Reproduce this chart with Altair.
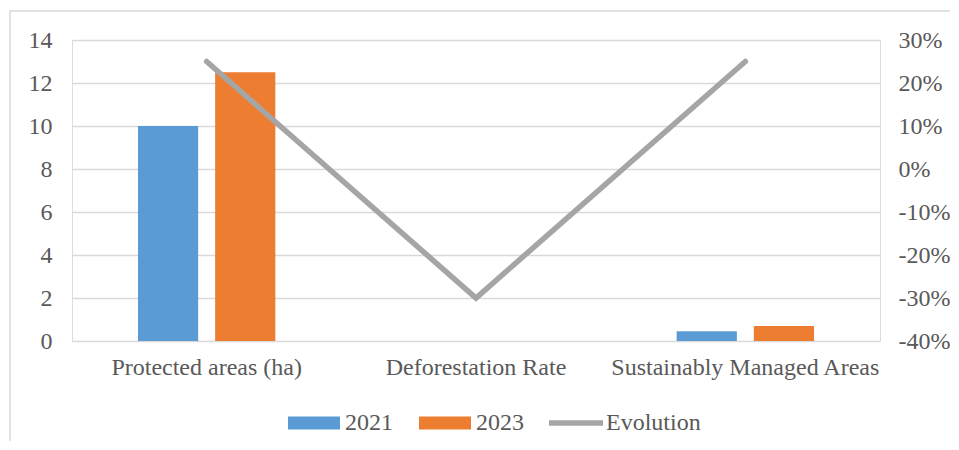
import altair as alt
import pandas as pd

categories = ["Protected areas (ha)", "Deforestation Rate", "Sustainably Managed Areas"]
years = ["2021", "2023"]
v2021 = [10.0, None, 0.45]
v2023 = [12.5, None, 0.70]
evolution = [0.25, -0.30, 0.25]

left_ticks = [0, 2, 4, 6, 8, 10, 12, 14]
right_ticks = [-0.4, -0.3, -0.2, -0.1, 0.0, 0.1, 0.2, 0.3]

BLUE = "#5B9BD5"
ORANGE = "#ED7D31"
GRAY = "#A5A5A5"
TEXT = "#595959"
GRID = "#D9D9D9"
FONT = "Liberation Serif"

rows = []
for c, a, b in zip(categories, v2021, v2023):
    if a is not None:
        rows.append({"category": c, "year": "2021", "value": a})
    if b is not None:
        rows.append({"category": c, "year": "2023", "value": b})
bars_df = pd.DataFrame(rows)
line_df = pd.DataFrame({"category": categories, "evolution": evolution,
                        "series": ["Evolution"] * 3})

x_enc = alt.X("category:N", sort=categories,
              scale=alt.Scale(paddingInner=0.49, paddingOuter=0.245),
              axis=alt.Axis(title=None, labelAngle=0, ticks=False, domain=False,
                            labelPadding=14, labelFontSize=24, labelColor=TEXT,
                            labelFont=FONT, labelLimit=0))

bars = alt.Chart(bars_df).mark_bar().encode(
    x=x_enc,
    xOffset=alt.XOffset("year:N", sort=years, scale=alt.Scale(paddingInner=0.22)),
    y=alt.Y("value:Q", scale=alt.Scale(domain=[0, 14], nice=False),
            axis=alt.Axis(title=None, values=left_ticks, grid=True, gridColor=GRID,
                          gridWidth=1.3, domain=False, ticks=False, labelPadding=20,
                          labelFontSize=24, labelColor=TEXT, labelFont=FONT)),
    fill=alt.Fill("year:N", scale=alt.Scale(domain=years, range=[BLUE, ORANGE]),
                  legend=alt.Legend(title=None, orient="none", direction="horizontal",
                                    legendX=216, legendY=357,
                                    symbolType="M-1,-0.25H1V0.25H-1Z", symbolSize=2704,
                                    symbolStrokeWidth=0, labelOffset=5, columnPadding=26,
                                    labelFontSize=24, labelColor=TEXT, labelFont=FONT,
                                    labelLimit=0)),
)

line = alt.Chart(line_df).mark_line(strokeWidth=5.5, strokeCap="round",
                                    strokeJoin="miter").encode(
    x=x_enc,
    y=alt.Y("evolution:Q", scale=alt.Scale(domain=[-0.4, 0.3], nice=False),
            axis=alt.Axis(title=None, orient="right", values=right_ticks, grid=False,
                          domain=False, ticks=False, labelPadding=18,
                          labelExpr="round(datum.value*100) + '%'",
                          labelFontSize=24, labelColor=TEXT, labelFont=FONT)),
    stroke=alt.Stroke("series:N", scale=alt.Scale(domain=["Evolution"], range=[GRAY]),
                      legend=alt.Legend(title=None, orient="none", direction="horizontal",
                                        legendX=474, legendY=353,
                                        symbolType="stroke", symbolSize=2916,
                                        symbolStrokeWidth=5.5, labelOffset=0,
                                        labelFontSize=24, labelColor=TEXT, labelFont=FONT,
                                        labelLimit=0)),
)

border = alt.Chart(pd.DataFrame({"k": [0]})).mark_rect(
    fill=None, stroke=GRID, strokeWidth=1.5).encode(
    x=alt.value(-62), x2=alt.value(900), y=alt.value(-29), y2=alt.value(430))

chart = alt.layer(bars, line, border).resolve_scale(y="independent").properties(
    width=808, height=301,
    autosize=alt.AutoSizeParams(type="none"),
    padding={"left": 64, "top": 32, "right": 70, "bottom": 100},
).configure_view(stroke=None).configure(font=FONT)

chart.save("out.html", embed_options={"renderer": "svg", "actions": False})
